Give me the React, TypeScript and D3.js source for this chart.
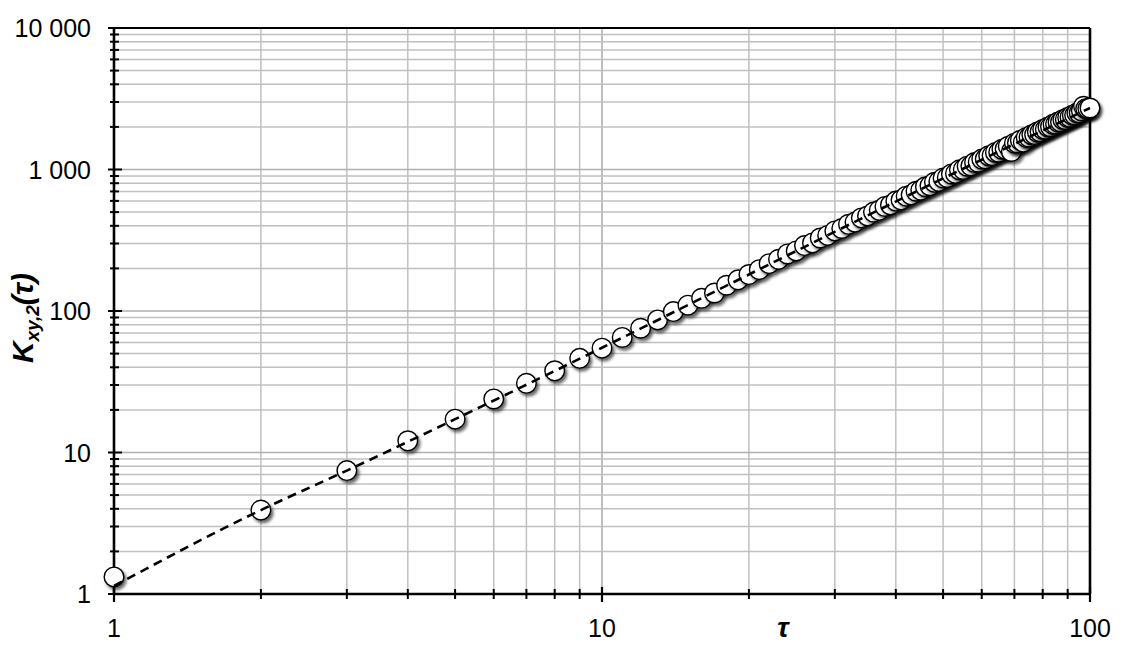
import React from "react";
import * as d3 from "d3";

const tauValues = [
  1, 2, 3, 4, 5, 6, 7, 8, 9, 10,
  11, 12, 13, 14, 15, 16, 17, 18, 19, 20,
  21, 22, 23, 24, 25, 26, 27, 28, 29, 30,
  31, 32, 33, 34, 35, 36, 37, 38, 39, 40,
  41, 42, 43, 44, 45, 46, 47, 48, 49, 50,
  51, 52, 53, 54, 55, 56, 57, 58, 59, 60,
  61, 62, 63, 64, 65, 66, 67, 68, 69, 70,
  71, 72, 73, 74, 75, 76, 77, 78, 79, 80,
  81, 82, 83, 84, 85, 86, 87, 88, 89, 90,
  91, 92, 93, 94, 95, 96, 97, 98, 99, 100,
];

const kValues = [
  1.32, 3.92, 7.45, 12.1, 17.2, 23.9, 30.8, 37.8, 46.3, 54.6,
  65, 75.5, 86.5, 99, 110, 123, 134, 152, 166, 181,
  196, 216, 232, 253, 266, 290, 303, 328, 342, 368,
  383, 410, 425, 455, 470, 500, 515, 548, 562, 598,
  610, 648, 662, 702, 715, 755, 768, 812, 824, 870,
  878, 930, 938, 995, 1000, 1055, 1060, 1120, 1125, 1185,
  1190, 1250, 1255, 1320, 1325, 1390, 1395, 1460, 1340, 1535,
  1540, 1610, 1560, 1685, 1690, 1760, 1765, 1840, 1845, 1920,
  1925, 2000, 2005, 2085, 2090, 2165, 2170, 2250, 2255, 2335,
  2340, 2420, 2425, 2510, 2515, 2600, 2800, 2690, 2695, 2720,
];

const fitTau = [1, 2, 3, 5, 10, 20, 50, 100];
const fitK = [1.14, 3.92, 7.45, 17.2, 55, 181, 865, 2720];

const xTickValues = [1, 10, 100];
const xTickLabels = ["1", "10", "100"];
const yTickValues = [1, 10, 100, 1000, 10000];
const yTickLabels = ["1", "10", "100", "1 000", "10 000"];

const W = 1138;
const H = 645;
const L = 114;
const R = 1090;
const T = 28;
const B = 594;

export default function App() {
  const x = d3.scaleLog().domain([1, 100]).range([L, R]);
  const y = d3.scaleLog().domain([1, 10000]).range([B, T]);

  const xMinor: number[] = [];
  [1, 10].forEach((d) => {
    for (let m = 2; m <= 9; m++) xMinor.push(d * m);
  });
  const yMinor: number[] = [];
  [1, 10, 100, 1000].forEach((d) => {
    for (let m = 2; m <= 9; m++) yMinor.push(d * m);
  });

  const fitPts = fitTau.map((t, i) => [t, fitK[i]] as [number, number]);
  const line = d3
    .line<[number, number]>()
    .x((d) => x(d[0]))
    .y((d) => y(d[1]))
    .curve(d3.curveMonotoneX);

  const font = "'Liberation Sans', Arial, Helvetica, sans-serif";

  return (
    <svg
      width={W}
      height={H}
      style={{ position: "absolute", left: 0, top: 0, background: "#fff" }}
      fontFamily={font}
    >
      <defs>
        <filter id="shadow" x="-50%" y="-50%" width="200%" height="200%">
          <feDropShadow dx="2.2" dy="2.8" stdDeviation="1.7" floodColor="#000" floodOpacity="0.6" />
        </filter>
      </defs>
      <rect x={0} y={0} width={W} height={H} fill="#fff" />
      {/* grid */}
      {xMinor.map((v) => (
        <line key={"gx" + v} x1={x(v)} x2={x(v)} y1={T} y2={B} stroke="#c0c0c0" strokeWidth={1.5} />
      ))}
      {[10].map((v) => (
        <line key={"gxm" + v} x1={x(v)} x2={x(v)} y1={T} y2={B} stroke="#b0b0b0" strokeWidth={1.6} />
      ))}
      {yMinor.map((v) => (
        <line key={"gy" + v} x1={L} x2={R} y1={y(v)} y2={y(v)} stroke="#c0c0c0" strokeWidth={1.5} />
      ))}
      {[10, 100, 1000].map((v) => (
        <line key={"gym" + v} x1={L} x2={R} y1={y(v)} y2={y(v)} stroke="#b0b0b0" strokeWidth={1.6} />
      ))}

      {/* frame */}
      <line x1={L} x2={R} y1={T} y2={T} stroke="#000" strokeWidth={2} />
      <line x1={R} x2={R} y1={T} y2={B} stroke="#000" strokeWidth={2.6} />
      <line x1={L} x2={L} y1={T} y2={B} stroke="#000" strokeWidth={2.6} />
      <line x1={L} x2={R} y1={B} y2={B} stroke="#000" strokeWidth={2.6} />

      {/* ticks */}
      {yMinor.map((v) => (
        <line key={"ty" + v} x1={L - 4} x2={L + 5} y1={y(v)} y2={y(v)} stroke="#000" strokeWidth={2} />
      ))}
      {yTickValues.map((v) => (
        <line key={"tym" + v} x1={L - 6} x2={L + 8} y1={y(v)} y2={y(v)} stroke="#000" strokeWidth={2} />
      ))}
      {xMinor.map((v) => (
        <line key={"tx" + v} x1={x(v)} x2={x(v)} y1={B - 5} y2={B + 5} stroke="#000" strokeWidth={2} />
      ))}
      {xTickValues.map((v) => (
        <line key={"txm" + v} x1={x(v)} x2={x(v)} y1={B - 7} y2={B + 8} stroke="#000" strokeWidth={2.2} />
      ))}

      {/* tick labels */}
      {yTickValues.map((v, i) => (
        <text key={"ly" + v} x={L - 23} y={y(v) + 9} textAnchor="end" fontSize={25} fill="#000">
          {yTickLabels[i]}
        </text>
      ))}
      {xTickValues.map((v, i) => (
        <text key={"lx" + v} x={x(v)} y={637} textAnchor="middle" fontSize={25} fill="#000">
          {xTickLabels[i]}
        </text>
      ))}

      {/* axis titles */}
      <text x={783} y={637} textAnchor="middle" fontSize={28} fontWeight="bold" fontStyle="italic">
        τ
      </text>
      <text
        transform={`translate(33,318) rotate(-90)`}
        textAnchor="middle"
        fontWeight="bold"
        fontStyle="italic"
        fontSize={30}
      >
        K
        <tspan fontSize={19} dy={6}>
          xy,2
        </tspan>
        <tspan fontSize={30} dy={-6}>
          (τ)
        </tspan>
      </text>

      {/* markers */}
      {tauValues.map((t, i) => (
        <circle
          key={"c" + t}
          cx={x(t)}
          cy={y(kValues[i])}
          r={9.8}
          fill="#fff"
          stroke="#000"
          strokeWidth={1.4}
          filter="url(#shadow)"
        />
      ))}

      {/* dashed fit line */}
      <path d={line(fitPts) || ""} fill="none" stroke="#000" strokeWidth={2.6} strokeDasharray="9,6" />
    </svg>
  );
}
